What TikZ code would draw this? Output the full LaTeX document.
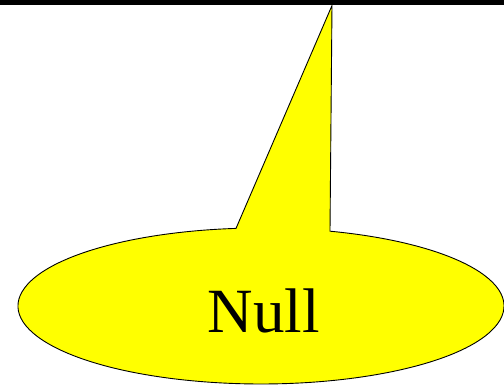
\documentclass[tikz,border=0pt]{standalone}
\usepackage{fontspec}
\setmainfont{Liberation Serif}
\definecolor{calloutyellow}{RGB}{255,255,0}
\begin{document}
\begin{tikzpicture}[x=1pt,y=1pt,
  callout/.style={draw=black,fill=calloutyellow,line width=0.9pt,line join=miter},
  bigtext/.style={font=\fontsize{63}{70}\selectfont,inner sep=0pt}]
\useasboundingbox (0,0) rectangle (504,387);
\fill[white] (0,0) rectangle (504,387);
\fill[black] (0,381.5) rectangle (504,387);
\coordinate (tip) at (332,381.5);
\coordinate (baseR) at (330,155.8);
\draw[callout] (baseR) arc[start angle=73.5, end angle=-264.1, x radius=243, y radius=78] -- (tip) -- cycle;
\node[bigtext,anchor=base] (label) at (264,54) {Null};
\end{tikzpicture}
\end{document}
